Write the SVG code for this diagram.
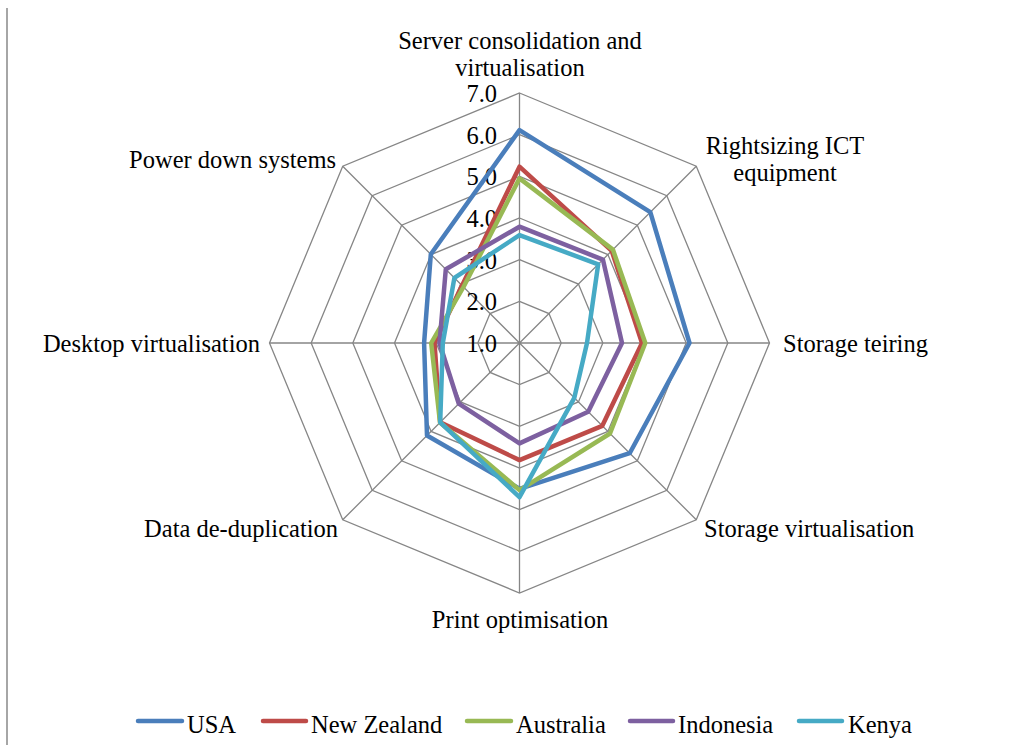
<svg xmlns="http://www.w3.org/2000/svg" width="1024" height="751" viewBox="0 0 1024 751">
<style>
  text { font-family: "Liberation Serif", "Times New Roman", serif; font-size: 24.5px; fill: #000; }
  .grid { fill: none; stroke: #868686; stroke-width: 1.3; }
  .series { fill: none; stroke-width: 4.5; stroke-linejoin: round; stroke-linecap: round; }
  .leg { stroke-width: 4.5; stroke-linecap: round; }
  .usa { stroke: #4A7EBB; }
  .nz { stroke: #BE4B48; }
  .aus { stroke: #98B954; }
  .ind { stroke: #7D60A0; }
  .ken { stroke: #46AAC5; }
  .end { text-anchor: end; }
  .mid { text-anchor: middle; }
</style>
<rect width="1024" height="751" fill="#fff"/>
<line x1="7" y1="8" x2="7" y2="745" stroke="#a6a6a6" stroke-width="2"/>

<g id="grid" transform="translate(519.5,343)">
  <polygon class="grid" points="0,-41.667 29.463,-29.463 41.667,0 29.463,29.463 0,41.667 -29.463,29.463 -41.667,0 -29.463,-29.463"/>
  <polygon class="grid" points="0,-83.333 58.926,-58.926 83.333,0 58.926,58.926 0,83.333 -58.926,58.926 -83.333,0 -58.926,-58.926"/>
  <polygon class="grid" points="0,-125 88.388,-88.388 125,0 88.388,88.388 0,125 -88.388,88.388 -125,0 -88.388,-88.388"/>
  <polygon class="grid" points="0,-166.667 117.851,-117.851 166.667,0 117.851,117.851 0,166.667 -117.851,117.851 -166.667,0 -117.851,-117.851"/>
  <polygon class="grid" points="0,-208.333 147.314,-147.314 208.333,0 147.314,147.314 0,208.333 -147.314,147.314 -208.333,0 -147.314,-147.314"/>
  <polygon class="grid" points="0,-250 176.777,-176.777 250,0 176.777,176.777 0,250 -176.777,176.777 -250,0 -176.777,-176.777"/>
  <path class="grid" d="M0,0V-250M0,0L176.777,-176.777M0,0H250M0,0L176.777,176.777M0,0V250M0,0L-176.777,176.777M0,0H-250M0,0L-176.777,-176.777"/>
</g>

<g id="scale-labels" class="end">
  <text x="497" y="102">7.0</text>
  <text x="497" y="144">6.0</text>
  <text x="497" y="185">5.0</text>
  <text x="497" y="227">4.0</text>
  <text x="497" y="269">3.0</text>
  <text x="497" y="310">2.0</text>
  <text x="497" y="352">1.0</text>
</g>

<g id="series" transform="translate(519.5,343)">
  <polygon id="s-usa" class="series usa" points="0,-212.9 130.8,-130.8 170,0 110.2,110.2 0,145.8 -92.5,92.5 -95.4,0 -88.7,-88.7"/>
  <polygon id="s-nz" class="series nz" points="0,-176.3 92.2,-92.2 122.5,0 82.8,82.8 0,117.1 -79.3,79.3 -85,0 -57.4,-57.4"/>
  <polygon id="s-aus" class="series aus" points="0,-164.6 93.4,-93.4 125.8,0 90.5,90.5 0,147.1 -79.5,79.5 -88.3,0 -56,-56"/>
  <polygon id="s-ind" class="series ind" points="0,-116.3 83.4,-83.4 102.5,0 68.7,68.7 0,100.4 -60.7,60.7 -80,0 -73.7,-73.7"/>
  <polygon id="s-ken" class="series ken" points="0,-107.9 78.7,-78.7 67.5,0 54.8,54.8 0,154.2 -79.3,79.3 -76.7,0 -65.1,-65.1"/>
</g>

<g id="axis-server">
  <text class="mid" x="520" y="49">Server consolidation and</text>
  <text class="mid" x="520" y="76">virtualisation</text>
</g>
<g id="axis-rightsizing">
  <text class="mid" x="785" y="154">Rightsizing ICT</text>
  <text class="mid" x="785" y="181">equipment</text>
</g>
<g id="axis-storage-teiring"><text x="783" y="352">Storage teiring</text></g>
<g id="axis-storage-virt"><text x="704" y="537">Storage virtualisation</text></g>
<g id="axis-print"><text class="mid" x="520" y="628">Print optimisation</text></g>
<g id="axis-dedup"><text class="end" x="338" y="537">Data de-duplication</text></g>
<g id="axis-desktop"><text class="end" x="260" y="352">Desktop virtualisation</text></g>
<g id="axis-power"><text class="end" x="336" y="168">Power down systems</text></g>

<g id="legend">
  <line class="leg usa" x1="138" y1="721" x2="182" y2="721"/>
  <text x="187" y="733">USA</text>
  <line class="leg nz" x1="263" y1="721" x2="306" y2="721"/>
  <text x="311" y="733">New Zealand</text>
  <line class="leg aus" x1="467" y1="721" x2="511" y2="721"/>
  <text x="516" y="733">Australia</text>
  <line class="leg ind" x1="630" y1="721" x2="673" y2="721"/>
  <text x="678" y="733">Indonesia</text>
  <line class="leg ken" x1="799" y1="721" x2="842" y2="721"/>
  <text x="848" y="733">Kenya</text>
</g>
</svg>
